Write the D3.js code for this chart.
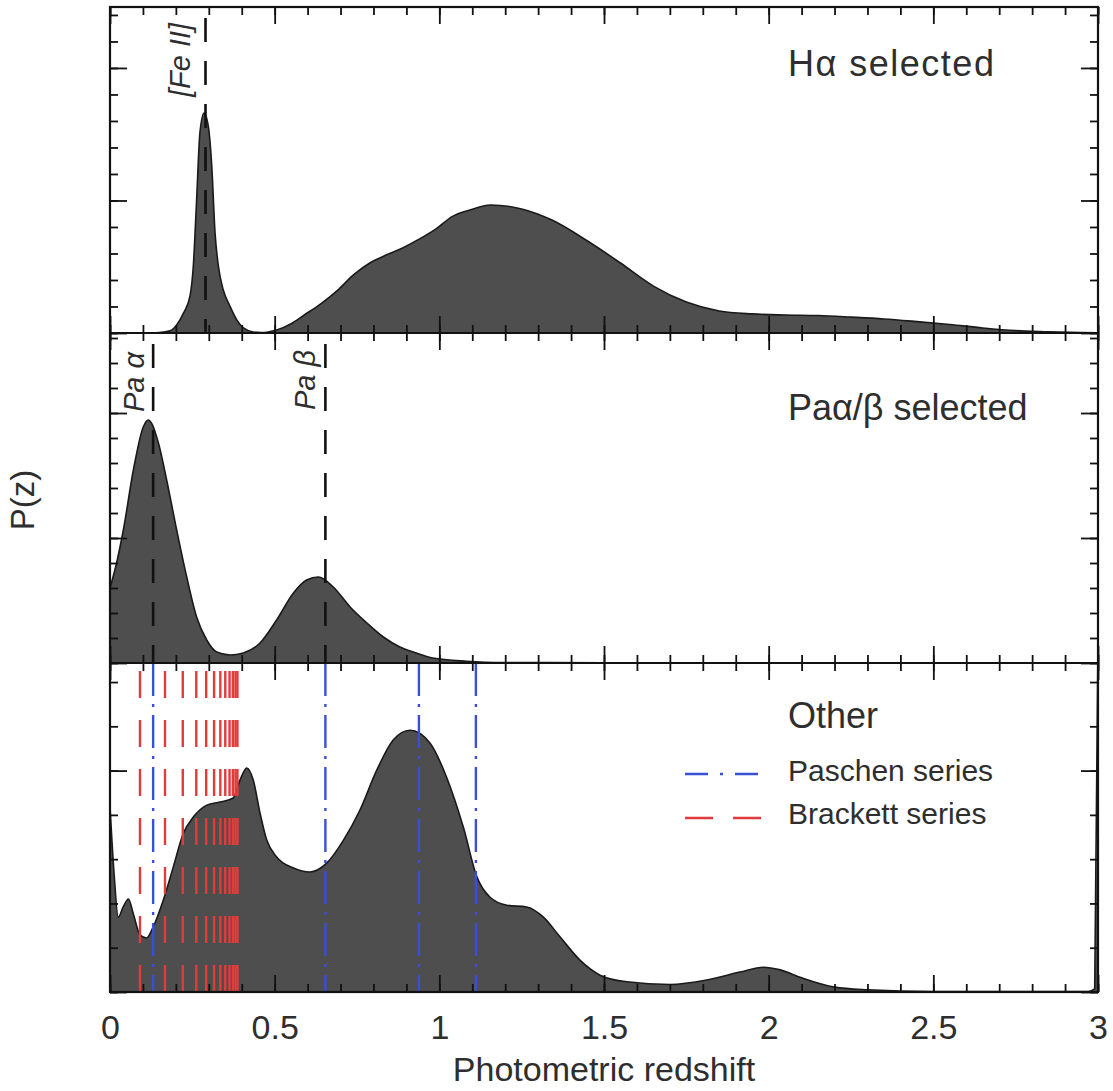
<!DOCTYPE html>
<html>
<head>
<meta charset="utf-8">
<script src="https://d3js.org/d3.v7.min.js"></script>
<style>
body { margin: 0; background: #fff; }
svg text { font-family: "Liberation Sans", Arial, Helvetica, sans-serif; fill: #2e2e2e; }
</style>
</head>
<body>
<svg width="1113" height="1091"></svg>
<script>
// P(z) curves (arbitrary units per panel)
const haZ = [0, 0.10, 0.15, 0.182, 0.2025, 0.223, 0.243, 0.253, 0.263, 0.273, 0.2855, 0.2986, 0.309, 0.319, 0.329, 0.344, 0.364, 0.385, 0.405, 0.435, 0.46, 0.48, 0.506, 0.55, 0.59, 0.64, 0.69, 0.74, 0.79, 0.84, 0.89, 0.94, 0.99, 1.04, 1.09, 1.156, 1.25, 1.342, 1.45, 1.55, 1.65, 1.75, 1.85, 1.95, 2.05, 2.15, 2.25, 2.35, 2.45, 2.55, 2.65, 2.75, 2.85, 2.95, 3.0];
const haP = [0, 0, 0.002, 0.008, 0.030, 0.075, 0.140, 0.253, 0.502, 0.755, 0.830, 0.780, 0.630, 0.377, 0.253, 0.162, 0.102, 0.049, 0.019, 0.004, 0.002, 0.004, 0.011, 0.035, 0.068, 0.110, 0.160, 0.220, 0.265, 0.295, 0.322, 0.355, 0.393, 0.440, 0.463, 0.483, 0.468, 0.426, 0.347, 0.264, 0.177, 0.117, 0.083, 0.072, 0.068, 0.066, 0.060, 0.053, 0.043, 0.032, 0.019, 0.009, 0.005, 0.002, 0.001];

const paZ = [0, 0.02, 0.0405, 0.071, 0.101, 0.1164, 0.147, 0.172, 0.2025, 0.233, 0.263, 0.2936, 0.324, 0.3644, 0.405, 0.4555, 0.506, 0.557, 0.597, 0.6326, 0.678, 0.729, 0.78, 0.83, 0.88, 0.93, 0.98, 1.083, 1.2, 1.5, 2.0, 3.0];
const paP = [0.30, 0.40, 0.532, 0.772, 0.944, 0.972, 0.880, 0.732, 0.532, 0.344, 0.184, 0.092, 0.044, 0.032, 0.040, 0.080, 0.172, 0.280, 0.332, 0.344, 0.304, 0.224, 0.160, 0.104, 0.064, 0.040, 0.020, 0.007, 0.002, 0.001, 0, 0];

const otZ = [0, 0.012, 0.025, 0.04, 0.056, 0.071, 0.091, 0.111, 0.131, 0.162, 0.192, 0.223, 0.253, 0.294, 0.334, 0.374, 0.395, 0.415, 0.435, 0.4555, 0.476, 0.506, 0.557, 0.607, 0.658, 0.709, 0.759, 0.81, 0.86, 0.911, 0.972, 1.022, 1.073, 1.114, 1.154, 1.205, 1.265, 1.316, 1.367, 1.427, 1.488, 1.569, 1.70, 1.812, 1.913, 1.984, 2.035, 2.1, 2.2, 2.3, 2.5, 2.97, 2.99, 3.0];
const otP = [0.418, 0.271, 0.169, 0.192, 0.210, 0.176, 0.129, 0.122, 0.147, 0.208, 0.282, 0.359, 0.395, 0.422, 0.429, 0.438, 0.479, 0.506, 0.479, 0.404, 0.343, 0.305, 0.280, 0.271, 0.291, 0.343, 0.411, 0.501, 0.569, 0.591, 0.562, 0.485, 0.372, 0.260, 0.214, 0.196, 0.192, 0.169, 0.124, 0.072, 0.038, 0.023, 0.017, 0.027, 0.045, 0.056, 0.050, 0.032, 0.011, 0.005, 0.001, 0.001, 0.007, 0.79];

// line redshifts
const feII = [0.29];
const paLines = [0.131, 0.654];
const paschen = [0.131, 0.654, 0.938, 1.111];
const brackett = [0.091, 0.167, 0.221, 0.262, 0.292, 0.316, 0.335, 0.350, 0.363, 0.373, 0.381, 0.387];

const xMajor = [0, 0.5, 1, 1.5, 2, 2.5, 3];
const xMinor = d3.range(0, 31).map(i => i / 10);

const svg = d3.select('svg');
const L = 110, R = 1098;
const x = d3.scaleLinear().domain([0, 3]).range([L, R]);

const panels = [
  { z: haZ, p: haP, top: 7, bottom: 333, ymax: 1.23, label: 'Hα selected', ly: 76, ls: 1.5 },
  { z: paZ, p: paP, top: 333, bottom: 663, ymax: 1.32, label: 'Paα/β selected', ly: 420, ls: 0 },
  { z: otZ, p: otP, top: 663, bottom: 992, ymax: 0.743, label: 'Other', ly: 728, ls: 0 }
];

const defs = svg.append('defs');

function styleTicks(g) {
  g.select('.domain').remove();
  g.selectAll('line').attr('stroke', '#111').attr('stroke-width', 1.8);
}

panels.forEach((pn, i) => {
  pn.y = d3.scaleLinear().domain([0, pn.ymax]).range([pn.bottom, pn.top]);
  defs.append('clipPath').attr('id', 'clip' + i)
    .append('rect').attr('x', L).attr('y', pn.top).attr('width', R - L).attr('height', pn.bottom - pn.top);

  const g = svg.append('g').attr('clip-path', `url(#clip${i})`);
  const pts = pn.z.map((z, k) => [z, pn.p[k]]);
  const area = d3.area().x(d => x(d[0])).y0(pn.y(0)).y1(d => pn.y(d[1])).curve(d3.curveMonotoneX);
  g.append('path').datum(pts).attr('d', area)
    .attr('fill', '#4e4e4e').attr('stroke', '#1a1a1a').attr('stroke-width', 1.6);
  pn.g = g;
});

// black dashed identification lines
function blackLine(pn, z) {
  pn.g.append('line')
    .attr('x1', x(z)).attr('x2', x(z)).attr('y1', pn.y(pn.ymax)).attr('y2', pn.y(0))
    .attr('stroke', '#111').attr('stroke-width', 2.6)
    .attr('stroke-dasharray', '24,19').attr('stroke-dashoffset', 32);
}
feII.forEach(z => blackLine(panels[0], z));
paLines.forEach(z => blackLine(panels[1], z));

// Brackett (red) and Paschen (blue) lines in bottom panel
const pb = panels[2];
pb.g.selectAll('.br').data(brackett).enter().append('line')
  .attr('x1', d => x(d)).attr('x2', d => x(d))
  .attr('y1', pb.y(0)).attr('y2', pb.y(pb.ymax))
  .attr('stroke', '#e23b3b').attr('stroke-width', 2.4)
  .attr('stroke-dasharray', '27,22');
pb.g.selectAll('.pa').data(paschen).enter().append('line')
  .attr('x1', d => x(d)).attr('x2', d => x(d))
  .attr('y1', pb.y(pb.ymax)).attr('y2', pb.y(0))
  .attr('stroke', '#3a4fd8').attr('stroke-width', 2.4)
  .attr('stroke-dasharray', '33,8,3,8');

// ticks on all four sides of each panel
panels.forEach(pn => {
  const yMinor = d3.range(0, Math.floor(pn.ymax * 10 + 1e-6) + 1).map(k => k / 10);
  const yMajor = yMinor.filter(v => Math.abs(v * 2 - Math.round(v * 2)) < 1e-6);
  [[xMinor, 8], [xMajor, 17]].forEach(([vals, len]) => {
    svg.append('g').attr('transform', `translate(0,${pn.bottom})`)
      .call(d3.axisBottom(x).tickValues(vals).tickSize(-len).tickSizeOuter(0).tickFormat(''))
      .call(styleTicks);
    svg.append('g').attr('transform', `translate(0,${pn.top})`)
      .call(d3.axisTop(x).tickValues(vals).tickSize(-len).tickSizeOuter(0).tickFormat(''))
      .call(styleTicks);
  });
  [[yMinor, 8], [yMajor, 17]].forEach(([vals, len]) => {
    svg.append('g').attr('transform', `translate(${L},0)`)
      .call(d3.axisLeft(pn.y).tickValues(vals).tickSize(-len).tickSizeOuter(0).tickFormat(''))
      .call(styleTicks);
    svg.append('g').attr('transform', `translate(${R},0)`)
      .call(d3.axisRight(pn.y).tickValues(vals).tickSize(-len).tickSizeOuter(0).tickFormat(''))
      .call(styleTicks);
  });
  svg.append('text').attr('x', 788).attr('y', pn.ly)
    .style('font-size', '36px').style('letter-spacing', pn.ls + 'px').text(pn.label);
});

// frame
svg.append('rect').attr('x', L).attr('y', 7).attr('width', R - L).attr('height', 992 - 7)
  .attr('fill', 'none').attr('stroke', '#111').attr('stroke-width', 2.2);
[333, 663].forEach(yy => svg.append('line').attr('x1', L).attr('x2', R).attr('y1', yy).attr('y2', yy)
  .attr('stroke', '#111').attr('stroke-width', 2.2));

// rotated line labels
function rotLabel(px, pyBottom, txt) {
  svg.append('text').attr('transform', `translate(${px},${pyBottom}) rotate(-90)`)
    .style('font-size', '29px').style('font-style', 'italic').text(txt);
}
rotLabel(x(feII[0]) - 16, 97, '[Fe II]');
rotLabel(x(paLines[0]) - 9, 412, 'Pa α');
rotLabel(x(paLines[1]) - 10, 410, 'Pa β');

// legend
const leg = svg.append('g');
leg.append('line').attr('x1', 685).attr('x2', 760).attr('y1', 774).attr('y2', 774)
  .attr('stroke', '#3a4fd8').attr('stroke-width', 2.4).attr('stroke-dasharray', '23,12,3,12');
leg.append('line').attr('x1', 685).attr('x2', 763).attr('y1', 818).attr('y2', 818)
  .attr('stroke', '#e23b3b').attr('stroke-width', 2.4).attr('stroke-dasharray', '28,20');
leg.append('text').attr('x', 788).attr('y', 781).style('font-size', '30px').text('Paschen series');
leg.append('text').attr('x', 788).attr('y', 824).style('font-size', '30px').text('Brackett series');

// x tick labels and axis titles
svg.append('g').attr('transform', 'translate(0,992)')
  .call(d3.axisBottom(x).tickValues(xMajor).tickSize(0).tickPadding(23).tickFormat(d3.format('~g')))
  .call(g => g.select('.domain').remove())
  .call(g => g.selectAll('text').style('font-size', '34px').attr('fill', '#2e2e2e')
    .style('font-family', '"Liberation Sans", Arial, sans-serif'));

svg.append('text').attr('x', (L + R) / 2).attr('y', 1081).attr('text-anchor', 'middle')
  .style('font-size', '34px').text('Photometric redshift');
svg.append('text').attr('transform', 'translate(34,500) rotate(-90)').attr('text-anchor', 'middle')
  .style('font-size', '33px').text('P(z)');
</script>
</body>
</html>
